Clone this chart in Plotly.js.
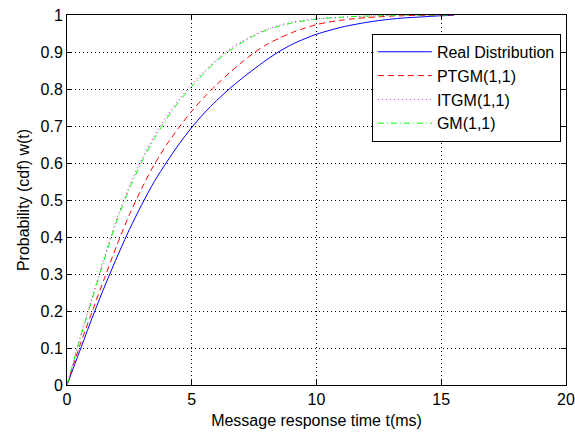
<!DOCTYPE html>
<html>
<head>
<meta charset="utf-8">
<script src="https://cdn.plot.ly/plotly-3.0.1.min.js"></script>
<style>
html,body{margin:0;padding:0;background:#fff;}
#chart{width:575px;height:432px;}
</style>
</head>
<body>
<div id="chart"></div>
<script>
// Message response time t (ms)
const tValues = [0,0.5,1,1.5,2,2.5,3,3.5,4,4.5,5,5.5,6,6.5,7,7.5,8,8.5,9,9.5,10,10.5,11,11.5,12,12.5,13,13.5,14,14.5,15,15.5];

const realDistribution = [0,0.09,0.18,0.265,0.345,0.42,0.488,0.55,0.603,0.652,0.696,0.735,0.769,0.80,0.828,0.854,0.879,0.901,0.92,0.935,0.948,0.958,0.967,0.974,0.980,0.985,0.989,0.992,0.994,0.996,0.998,0.999];

const ptgm = [0,0.104,0.197,0.288,0.378,0.46,0.532,0.596,0.65,0.697,0.74,0.778,0.812,0.843,0.872,0.898,0.92,0.937,0.952,0.964,0.974,0.981,0.986,0.99,0.993,0.995,0.997,0.998,0.999,0.999,1.0,1.0];

const itgm = [0,0.123,0.235,0.346,0.45,0.537,0.611,0.673,0.727,0.773,0.812,0.848,0.88,0.907,0.928,0.946,0.961,0.972,0.98,0.986,0.99,0.992,0.994,0.996,0.997,0.998,0.999,1.0,1.0,1.0,1.0,1.0];

const gm = [0,0.12,0.23,0.34,0.444,0.53,0.604,0.666,0.72,0.767,0.807,0.843,0.876,0.903,0.925,0.944,0.959,0.97,0.978,0.984,0.989,0.992,0.994,0.996,0.997,0.998,0.999,1.0,1.0,1.0,1.0,1.0];

const seriesNames = ['Real Distribution','PTGM(1,1)','ITGM(1,1)','GM(1,1)'];
const xTickVals = [0,5,10,15,20];
const yTickVals = [0,0.1,0.2,0.3,0.4,0.5,0.6,0.7,0.8,0.9,1];
const yTickText = ['0','0.1','0.2','0.3','0.4','0.5','0.6','0.7','0.8','0.9','1'];

const FONT = 'Liberation Sans, Arial, Helvetica, sans-serif';
const FS = 16;

const traces = [
  {x:tValues, y:realDistribution, name:seriesNames[0], legendgroup:'a', mode:'lines', line:{color:'#0000FF', width:1, dash:'solid', shape:'spline', smoothing:0.8}},
  {x:tValues, y:ptgm, name:seriesNames[1], legendgroup:'b', mode:'lines', line:{color:'#FF0000', width:1, dash:'6px,4px', shape:'spline', smoothing:0.8}},
  {x:tValues, y:itgm, name:seriesNames[2], legendgroup:'c', mode:'lines', line:{color:'#FF00FF', width:1, dash:'1px,3px', shape:'spline', smoothing:0.8}},
  {x:tValues, y:gm, name:seriesNames[3], legendgroup:'d', mode:'lines', line:{color:'#00FF00', width:1, dash:'6px,3px,1px,3px', shape:'spline', smoothing:0.8}}
];

const axisCommon = {
  showline:true, linecolor:'#000', linewidth:1, mirror:'allticks',
  ticks:'inside', ticklen:5, tickcolor:'#000', tickwidth:1,
  showgrid:true, gridcolor:'#000', gridwidth:1, griddash:'1px,3px',
  zeroline:false, tickfont:{family:FONT, size:FS, color:'#000'},
  ticklabeloverflow:'allow'
};

const layout = {
  width:575, height:432,
  paper_bgcolor:'#fff', plot_bgcolor:'#fff',
  margin:{l:67, r:9, t:15, b:47},
  showlegend:true,
  xaxis: Object.assign({}, axisCommon, {
    range:[0,20], tickvals:xTickVals, ticktext:xTickVals.map(String),
    title:{text:'Message response time t(ms)', font:{family:FONT, size:FS, color:'#000'}, standoff:7}
  }),
  yaxis: Object.assign({}, axisCommon, {
    range:[0,1], tickvals:yTickVals, ticktext:yTickText,
    title:{text:'Probability (cdf) w(t)', font:{family:FONT, size:FS, color:'#000'}, standoff:6}
  }),
  legend:{
    x:0.611, y:0.949, xanchor:'left', yanchor:'top',
    bgcolor:'#fff', bordercolor:'#000', borderwidth:1,
    font:{family:FONT, size:FS, color:'#000'},
    tracegroupgap:0, itemwidth:54
  }
};

Plotly.newPlot('chart', traces, layout, {staticPlot:true, displayModeBar:false});
</script>
</body>
</html>
